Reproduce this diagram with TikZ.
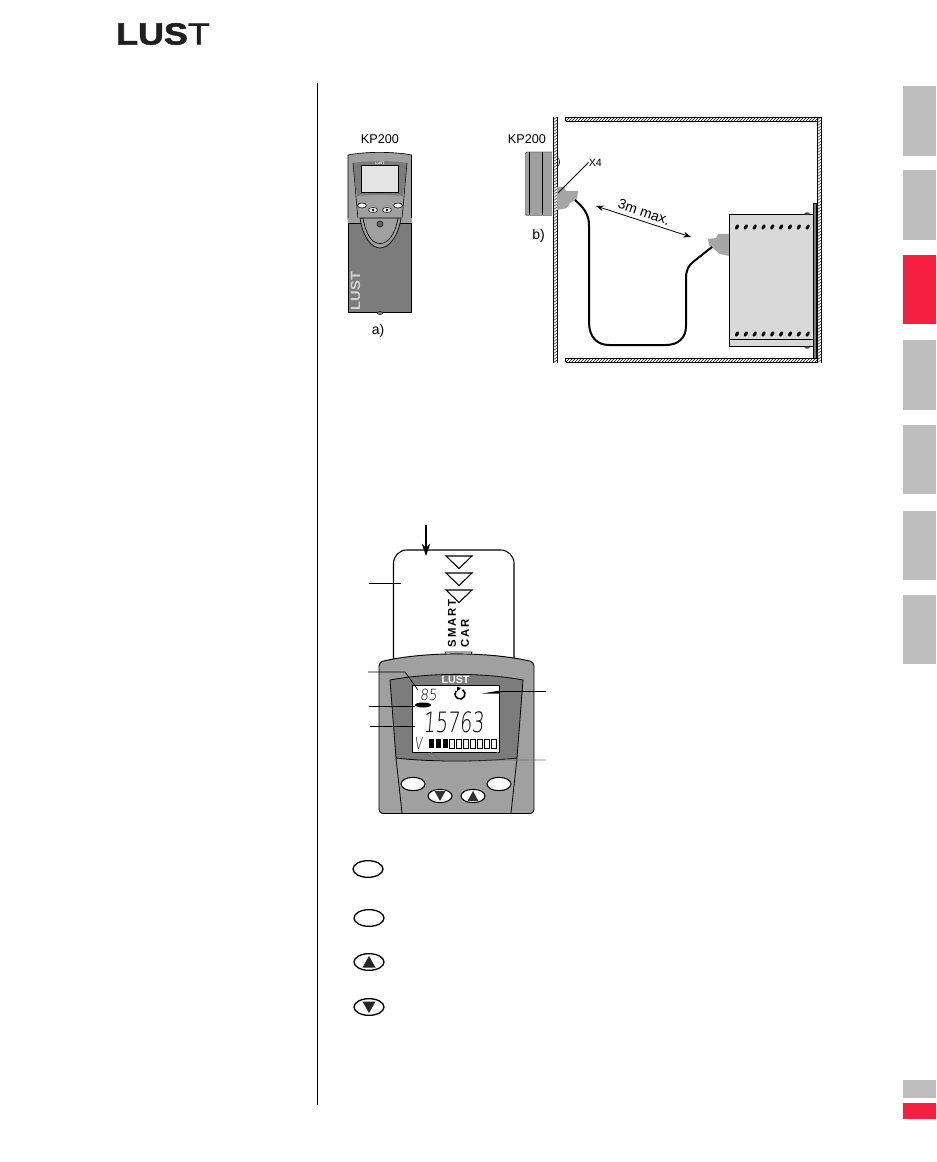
\documentclass[tikz,border=0pt]{standalone}
\usepackage{fontspec}
\setmainfont{Liberation Sans}
\newfontfamily\lcdfont[FakeSlant=0.12]{DejaVu Sans ExtraLight}
\newfontfamily\logofont[FakeBold=1.6]{Liberation Sans Bold}
\newfontfamily\logothin[FakeBold=1.2]{Liberation Sans}
\usepackage{tikz}
\usetikzlibrary{positioning,calc,arrows.meta,shapes.geometric}
\definecolor{tabgray}{HTML}{BEBEBE}
\definecolor{tabred}{HTML}{F5203F}
\definecolor{bodygray}{HTML}{A0A0A0}
\definecolor{darkgray}{HTML}{7C7C7C}
\definecolor{plugray}{HTML}{A6A6A6}
\definecolor{lcdgray}{HTML}{E4E4E4}
\definecolor{drivegray}{HTML}{D9D9D9}
\tikzset{
  figlabel/.style={font=\fontsize{9.5}{11}\selectfont, inner sep=0pt},
  figlabelbig/.style={font=\fontsize{10.5}{12}\selectfont, inner sep=0pt},
  figtab/.style={fill=tabgray},
  figtabred/.style={fill=tabred},
  figleader/.style={line width=0.55pt},
  wallhatch/.style={line width=0.35pt},
  wallline/.style={line width=0.6pt},
  keyoval/.style={draw, ellipse, fill=white, line width=0.8pt, inner sep=0pt, minimum width=18pt, minimum height=10pt},
  legendoval/.style={draw, ellipse, fill=white, line width=1pt, inner sep=0pt, minimum width=22.5pt, minimum height=12.5pt},
}
\begin{document}
\begin{tikzpicture}[x=0.75pt,y=-0.75pt]
	\useasboundingbox (0,0) rectangle (936,1162);

	% Logo and page rule
	\node[font=\fontsize{23}{23}\selectfont, inner sep=0pt, xscale=1.17, text=black!88] (logo) at (163,34) {{\logofont LUS}{\logothin T}};
	\draw[line width=0.7pt] (317.5,83) -- (317.5,1105);

	% Tabs on the right edge
	\foreach \ytop/\ybot in {86/156,170/240,340/410,425/494,511/580,595/664,1080/1098}
		\fill[figtab] (903,\ytop) rectangle (936,\ybot);
	\foreach \ytop/\ybot in {255/324,1103/1119}
		\fill[figtabred] (903,\ytop) rectangle (936,\ybot);

	% a) keypad on the drive
	\node[figlabel] (kpa) at (380,139) {KP200};
	\draw[fill=bodygray, line width=0.5pt] (348,219) -- (348,155) .. controls (365,151.5) and (394,151.5) .. (411.5,155) -- (411.5,219) -- cycle;
	\fill[darkgray] (353,163) .. controls (368,160.5) and (392,160.5) .. (407,163) -- (403,196) .. controls (390,194.5) and (370,194.5) .. (357,196) -- cycle;
	\draw[fill=lcdgray, line width=0.5pt] (361.5,165.5) rectangle (398.5,192.5);
	\node[font=\fontsize{2.6}{3}\selectfont\bfseries, text=white, inner sep=0pt] (lusta) at (380,163.2) {LUST};
	\draw[line width=0.4pt] (353,163) -- (358,219);
	\draw[line width=0.4pt] (407,163) -- (402,219);
	\fill[bodygray] (348,218) rectangle (411.5,224);
	\draw[fill=darkgray, line width=0.6pt] (348,223.5) -- (411.5,223.5) -- (411.5,312) -- (348,312) -- cycle;
	\draw[fill=bodygray, line width=0.5pt] (360,218) .. controls (363,238) and (372,248) .. (380,248) .. controls (388,248) and (398,238) .. (401,218) -- cycle;
	\draw[line width=0.5pt] (363,218) .. controls (366,235) and (372,243.5) .. (380,243.5) .. controls (388,243.5) and (395,235) .. (398,218);
	\draw[fill=black!60, line width=0.4pt] (380,224) circle (3);
	\draw[fill=darkgray, line width=0.3pt] (380,313) ellipse (3 and 1.5);
	\foreach \kx/\ky in {362/205.5,398/205.5,373/210,387/210}
		\draw[fill=white, line width=0.4pt] (\kx,\ky) ellipse (4.5 and 2.5);
	\foreach \kx in {373,387}
		\fill (\kx,210) circle (1.4);
	\node[rotate=90, font=\fontsize{10}{11}\selectfont\bfseries, text=black!18, inner sep=0pt, xscale=1.1] (lustb) at (355.5,291) {LUST};
	\node[figlabelbig] (labela) at (378,331) {a)};

	% b) keypad mounted in the cabinet door
	\node[figlabel] (kpb) at (527,139) {KP200};
	\draw[fill=bodygray, line width=0.3pt, rounded corners=1pt] (552,152) -- (525.5,152) -- (525.5,215.5) -- (552,215.5);
	\draw[line width=0.7pt] (529.5,152) -- (529.5,215.5);
	\draw[line width=0.7pt] (542,152) -- (542,215.5);
	\draw[line width=0.4pt] (557,157) .. controls (560.5,159) and (560.5,165) .. (557,167);
	\node[figlabelbig] (labelb) at (538.5,236) {b)};

	% Cabinet walls
	\draw[wallline] (553,117) -- (553,363) (557,117) -- (557,363);
	\draw[wallline] (817,117) -- (817,363) (821,117) -- (821,363);
	\draw[wallline] (565.5,117) -- (821,117) (565.5,121) -- (817,121);
	\draw[wallline] (565.5,358) -- (817,358) (565.5,362) -- (817,362);
	\draw[wallline] (565.5,117) -- (565.5,121) (565.5,358) -- (565.5,362);
	\foreach \wy in {117,120,...,360} {
		\draw[wallhatch] (553,\wy+3) -- (557,\wy);
		\draw[wallhatch] (817,\wy+3) -- (821,\wy);
	}
	\foreach \wx in {566,569,...,815} {
		\draw[wallhatch] (\wx,121) -- (\wx+4,117);
		\draw[wallhatch] (\wx,362) -- (\wx+4,358);
	}

	% Drive in the cabinet
	\draw[fill=drivegray, line width=0.6pt] (729,214) rectangle (813,346.5);
	\draw[line width=0.6pt] (729,339) -- (813,339);
	\draw[fill=darkgray, line width=0.7pt] (813,203.5) rectangle (816.5,358);
	\fill[black!70] (807,213.5) ellipse (2.5 and 1.2);
	\fill[black!70] (807,347.5) ellipse (2.5 and 1.2);
	\foreach \dotn in {0,...,8} {
		\fill[rotate around={60:(737+8.83*\dotn,227)}] (737+8.83*\dotn,227) ellipse (2.8 and 1.7);
		\fill[rotate around={60:(737+8.83*\dotn,334)}] (737+8.83*\dotn,334) ellipse (2.8 and 1.7);
	}

	% Plugs and cable
	\fill[plugray] (557,187) -- (564,187) -- (566,191) -- (578,191) -- (577,199) -- (570,203) -- (567,208) -- (557,210) -- cycle;
	\fill[plugray] (729,234) -- (718,234) -- (716,238) -- (708,239) -- (709,245) -- (714,249) -- (720,254) -- (729,256) -- cycle;
	\coordinate (plugA) at (575,200);
	\coordinate (plugB) at (712,247);
	\draw[line width=1.5pt] (plugA) .. controls (583,207) and (589,214) .. (589,225) -- (589,322) .. controls (589,337) and (597,345) .. (609,345) -- (666,345) .. controls (678,345) and (686,338) .. (686,326) -- (686,278) .. controls (686,270) and (689,265) .. (693,262) -- (plugB);
	\node[figlabel, font=\fontsize{8}{9}\selectfont, anchor=west] (xfour) at (588.5,162.5) {X4};
	\coordinate (xfourEnd) at (558,193);
	\draw[figleader] (xfour.west) -- (xfourEnd);
	\coordinate (spanA) at (596,206);
	\coordinate (spanB) at (691,237);
	\draw[Stealth-Stealth, line width=0.6pt] (spanA) -- (spanB);
	\node[figlabelbig, rotate=-19] (span) at (644,212) {3m max.};

	% Memory card
	\draw[line width=0.8pt, rounded corners=10pt] (393.5,660) -- (393.5,550) -- (514,550) -- (514,660);
	\coordinate (insertTop) at (426,525);
	\coordinate (insertEnd) at (426,556);
	\draw[-{Stealth[length=3.2mm,width=2.2mm]}, line width=1.2pt] (insertTop) -- (insertEnd);
	\foreach \ty in {556,573,590}
		\draw[line width=0.8pt] (446,\ty) -- (472,\ty) -- (459,\ty+12.5) -- cycle;
	\node[rotate=90, font=\fontsize{8.5}{9}\selectfont\bfseries, anchor=west, inner sep=0pt] (cardA) at (452,647.5) {S\,M\,A\,R\,T};
	\node[rotate=90, font=\fontsize{8.5}{9}\selectfont\bfseries, anchor=west, inner sep=0pt] (cardB) at (465,647.5) {C\,A\,R};
	\draw[line width=0.5pt] (445,652) -- (472,652) -- (470,656) -- (447,656) -- cycle;

	% Keypad front
	\draw[fill=bodygray, line width=0.7pt, rounded corners=3pt] (379,813.5) -- (379,662) .. controls (425,651.5) and (488,651.5) .. (534,662) -- (534,813.5) -- cycle;
	\draw[fill=darkgray, line width=0.6pt] (390,680) .. controls (430,672.5) and (483,672.5) .. (523,680) -- (517,758) .. controls (485,762) and (428,762) .. (396,758) -- cycle;
	\draw[line width=0.6pt] (396,758) -- (402,813);
	\draw[line width=0.6pt] (517,758) -- (511,813);
	\draw[fill=white, line width=0.6pt] (412,685) rectangle (499,752);
	\node[font=\fontsize{8}{9}\selectfont\bfseries, text=white, inner sep=0pt] (lustc) at (455.5,680.2) {LUST};

	% Display content
	\node[font=\lcdfont\fontsize{11.5}{12}\selectfont, xscale=0.85, inner sep=0pt] (lcdcode) at (428.5,695) {85};
	\draw[line width=1.2pt] (460,694) ++(-60:5) arc (300:580:5);
	\fill (461,688) -- (457,686.5) -- (457,691.5) -- cycle;
	\fill (423,705) ellipse (8 and 2.5);
	\node[font=\lcdfont\fontsize{21}{21}\selectfont, xscale=0.68, inner sep=0pt] (lcdvalue) at (453.5,722) {15763};
	\node[font=\lcdfont\fontsize{12.5}{13}\selectfont, inner sep=0pt, xscale=0.68] (lcdunit) at (418.5,743) {V};
	\foreach \barn in {0,...,9} {
		\ifnum\barn<3
			\fill (428.5+7*\barn,739) rectangle (433.5+7*\barn,748);
		\else
			\draw[line width=0.4pt] (428.5+7*\barn,739) rectangle (433.5+7*\barn,748);
		\fi
	}

	% Keys
	\node[keyoval] (keyL) at (413,784) {};
	\node[keyoval] (keyR) at (499,784) {};
	\node[keyoval] (keyD) at (440,796) {};
	\node[keyoval] (keyU) at (473,796) {};
	\fill[black!80] ($(keyD)+(-5.5,-5)$) -- ($(keyD)+(5.5,-5)$) -- ($(keyD)+(0,5)$) -- cycle;
	\fill[black!80] ($(keyU)+(-5.5,5)$) -- ($(keyU)+(5.5,5)$) -- ($(keyU)+(0,-5)$) -- cycle;

	% Leaders
	\coordinate (leadCard) at (369,583);
	\coordinate (leadCardEnd) at (401,583);
	\draw[figleader] (leadCard) -- (leadCardEnd);
	\coordinate (leadCode) at (368,672);
	\coordinate (leadCodeEnd) at (418,690);
	\draw[figleader] (leadCode) -- (405,672) -- (leadCodeEnd);
	\coordinate (leadMark) at (369,706);
	\draw[figleader] (leadMark) -- (415,706);
	\coordinate (leadValue) at (370,726);
	\draw[figleader] (leadValue) -- (415,726);
	\coordinate (leadRot) at (546,691);
	\fill (500,690.5) -- (482,693.5) -- (500,693.5) -- cycle;
	\draw[figleader] (leadRot) -- (500,691);
	\coordinate (leadBar) at (546,760);
	\draw[figleader, draw=black!55] (leadBar) -- (440,760) -- (431,752);
	\draw[figleader, draw=black!55] (507,760) -- (497,752);

	% Legend of the keys
	\node[legendoval] (legA) at (368,869) {};
	\node[legendoval] (legB) at (369,918) {};
	\node[legendoval] (legC) at (369,962) {};
	\node[legendoval] (legD) at (369,1007) {};
	\fill[black!85] ($(legC)+(-6.5,5.5)$) -- ($(legC)+(6.5,5.5)$) -- ($(legC)+(0,-6)$) -- cycle;
	\fill[black!85] ($(legD)+(-6.5,-5.5)$) -- ($(legD)+(6.5,-5.5)$) -- ($(legD)+(0,6)$) -- cycle;
\end{tikzpicture}
\end{document}
